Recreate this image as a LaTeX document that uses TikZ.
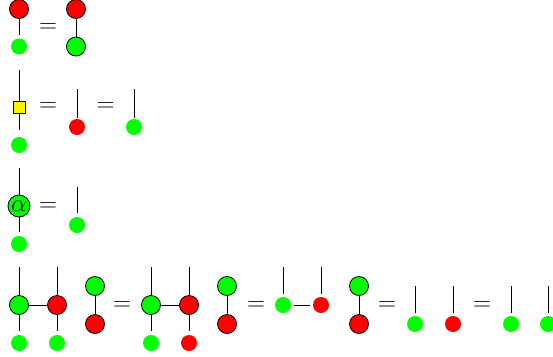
\documentclass[tikz,border=0pt]{standalone}
\begin{document}
\begin{tikzpicture}[x=1pt,y=-1pt,line width=0.8pt,
  bigr/.style={circle,draw,fill=red,minimum size=19pt,inner sep=0pt},
  bigg/.style={circle,draw,fill=green,minimum size=19pt,inner sep=0pt},
  dotr/.style={circle,fill=red,minimum size=16pt,inner sep=0pt},
  dotg/.style={circle,fill=green,minimum size=16pt,inner sep=0pt},
  ysq/.style={rectangle,draw,fill=yellow,minimum size=12pt,inner sep=0pt},
  alph/.style={circle,draw,fill=green,minimum size=22pt,inner sep=0pt,font=\fontsize{24}{26}\selectfont},
  eqs/.style={inner sep=0pt,font=\fontsize{25}{28}\selectfont},
  gap/.style={shorten <=3pt,shorten >=3pt}]
\useasboundingbox (0,0) rectangle (553,356);
% Row 1
\node[bigr] (r1a) at (19,9) {};
\coordinate (c1a) at (19,35);
\node[dotg] (g1a) at (19,46.5) {};
\draw (r1a) -- (c1a);
\node[eqs] (e1) at (48,28) {$=$};
\node[bigr] (r1b) at (76,9) {};
\node[bigg] (g1b) at (76,46.5) {};
\draw (r1b) -- (g1b);
% Row 2
\coordinate (t2a) at (19,70);
\node[ysq] (s2) at (19,107.5) {};
\coordinate (b2a) at (19,130);
\node[dotg] (g2a) at (19,145) {};
\draw (t2a) -- (s2) -- (b2a);
\node[eqs] (e2a) at (48,107.5) {$=$};
\coordinate (t2b) at (77,89);
\coordinate (b2b) at (77,118);
\node[dotr] (r2b) at (77,127) {};
\draw (t2b) -- (b2b);
\node[eqs] (e2b) at (105.5,107.5) {$=$};
\coordinate (t2c) at (134,89);
\coordinate (b2c) at (134,118);
\node[dotg] (g2c) at (134,127) {};
\draw (t2c) -- (b2c);
% Row 3
\coordinate (t3a) at (19,168);
\node[alph] (a3) at (19,206) {$\alpha$};
\coordinate (b3a) at (19,232);
\node[dotg] (g3a) at (19,244) {};
\draw (t3a) -- (a3) -- (b3a);
\node[eqs] (e3) at (48,207) {$=$};
\coordinate (t3b) at (77,187);
\coordinate (b3b) at (77,213);
\node[dotg] (g3b) at (77,225) {};
\draw (t3b) -- (b3b);
% Row 4
\coordinate (t4a) at (19,267);
\coordinate (t4b) at (57,267);
\node[bigg] (g4a) at (19,305) {};
\node[bigr] (r4b) at (57,305) {};
\coordinate (b4a) at (19,331);
\coordinate (b4b) at (57,331);
\node[dotg] (d4a) at (19,343) {};
\node[dotg] (d4b) at (57,343) {};
\draw (t4a) -- (g4a) -- (b4a);
\draw (t4b) -- (r4b) -- (b4b);
\draw (g4a) -- (r4b);
\node[bigg] (pg1) at (95,286) {};
\node[bigr] (pr1) at (95,324) {};
\draw (pg1) -- (pr1);
\node[eqs] (e4a) at (122,306) {$=$};
\coordinate (t4c) at (151,267);
\coordinate (t4d) at (189,267);
\node[bigg] (g4c) at (151,305) {};
\node[bigr] (r4d) at (189,305) {};
\coordinate (b4c) at (151,331);
\coordinate (b4d) at (189,331);
\node[dotg] (d4c) at (151,343) {};
\node[dotr] (d4d) at (189,343) {};
\draw (t4c) -- (g4c) -- (b4c);
\draw (t4d) -- (r4d) -- (b4d);
\draw (g4c) -- (r4d);
\node[bigg] (pg2) at (227,286) {};
\node[bigr] (pr2) at (227,324) {};
\draw (pg2) -- (pr2);
\node[eqs] (e4b) at (256,306) {$=$};
\coordinate (t4e) at (283,267);
\coordinate (b4e) at (283,294);
\node[dotg] (d4e) at (283,305) {};
\coordinate (t4f) at (321,267);
\coordinate (b4f) at (321,294);
\node[dotr] (d4f) at (321,305) {};
\draw (t4e) -- (b4e);
\draw (t4f) -- (b4f);
\draw[gap] (d4e) -- (d4f);
\node[bigg] (pg3) at (359,286) {};
\node[bigr] (pr3) at (359,324) {};
\draw (pg3) -- (pr3);
\node[eqs] (e4c) at (387,306) {$=$};
\coordinate (t4g) at (415,286);
\coordinate (b4g) at (415,313);
\node[dotg] (d4g) at (415,324) {};
\draw (t4g) -- (b4g);
\coordinate (t4h) at (453,286);
\coordinate (b4h) at (453,313);
\node[dotr] (d4h) at (453,324) {};
\draw (t4h) -- (b4h);
\node[eqs] (e4d) at (482,306) {$=$};
\coordinate (t4i) at (511,286);
\coordinate (b4i) at (511,313);
\node[dotg] (d4i) at (511,324) {};
\draw (t4i) -- (b4i);
\coordinate (t4j) at (548,286);
\coordinate (b4j) at (548,313);
\node[dotg] (d4j) at (548,324) {};
\draw (t4j) -- (b4j);
\end{tikzpicture}
\end{document}
